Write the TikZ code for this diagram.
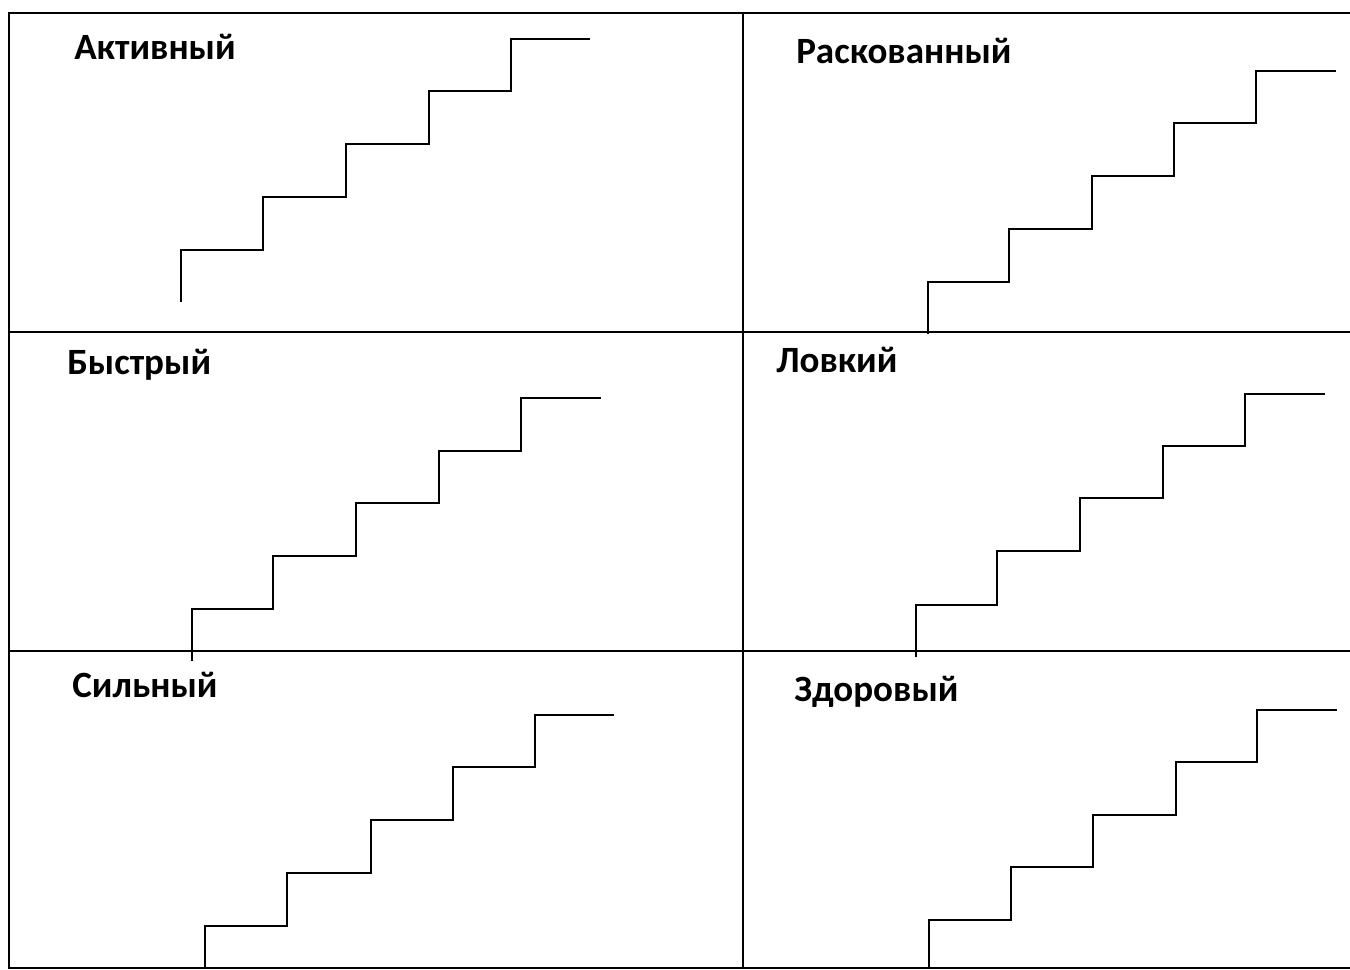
\documentclass[tikz,border=0pt]{standalone}
\usepackage{fontspec}
\setmainfont{Carlito}
\begin{document}
\begin{tikzpicture}[x=0.75pt,y=-0.75pt,
  grid/.style={line width=1.6pt,black},
  stair/.style={line width=1.1pt,black,line join=miter},
  lbl/.style={anchor=base west,inner sep=0pt,font=\fontsize{27.8}{32}\selectfont\bfseries}]
\useasboundingbox (0,0) rectangle (1350,970);
\begin{scope}
\clip (0,0) rectangle (1350,970);
% table
\draw[grid] (1360,13) -- (9,13) -- (9,968) -- (1360,968);
\draw[grid] (9,332) -- (1360,332);
\draw[grid] (9,651) -- (1360,651);
\draw[grid] (743,13) -- (743,968);
% staircases
\draw[stair] (181,302) |- (263,250) |- (346,197) |- (429,144) |- (511,91) |- (590,39);
\draw[stair] (928,334) |- (1009,282) |- (1092,229) |- (1174,176) |- (1256,123) |- (1336,71);
\draw[stair] (192,661) |- (273,609) |- (356,556) |- (439,503) |- (521,451) |- (601,398);
\draw[stair] (916,657) |- (997,605) |- (1080,551) |- (1163,498) |- (1245,446) |- (1325,394);
\draw[stair] (205,968) |- (287,926) |- (371,873) |- (453,820) |- (535,767) |- (614,715);
\draw[stair] (929,968) |- (1011,920) |- (1093,867) |- (1176,815) |- (1257,762) |- (1337,710);
\end{scope}
% labels
\node[lbl] (a) at (74,60) {Активный};
\node[lbl] (b) at (796,64) {Раскованный};
\node[lbl] (c) at (67,374) {Быстрый};
\node[lbl] (d) at (776,372) {Ловкий};
\node[lbl] (e) at (72,697) {Сильный};
\node[lbl] (f) at (794,701) {Здоровый};
\end{tikzpicture}
\end{document}
